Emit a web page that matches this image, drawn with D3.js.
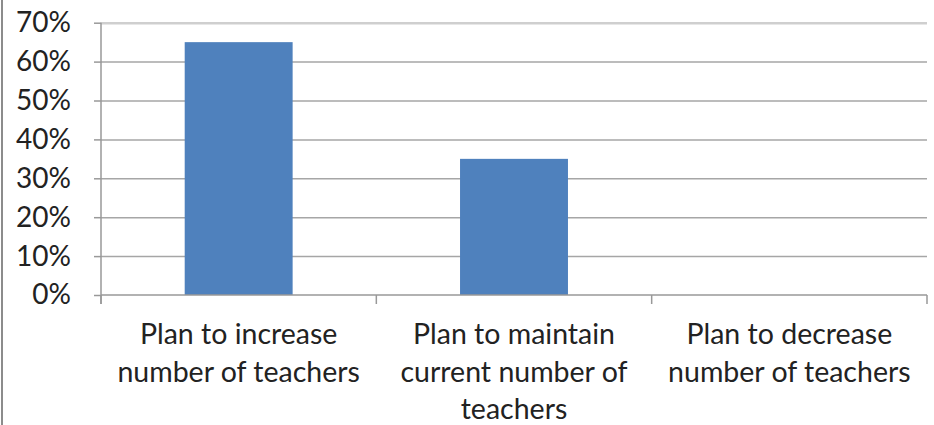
<!DOCTYPE html>
<html>
<head>
<meta charset="utf-8">
<script src="https://cdn.jsdelivr.net/npm/d3@7"></script>
<style>
  html, body { margin: 0; padding: 0; background: #fff; }
  svg { display: block; }
  text { font-family: Lato, "Open Sans", sans-serif; fill: #222; }
</style>
</head>
<body>
<svg id="chart" width="934" height="425"></svg>
<script>
const categories = [
  ["Plan to increase", "number of teachers"],
  ["Plan to maintain", "current number of", "teachers"],
  ["Plan to decrease", "number of teachers"]
];
const values = [0.65, 0.35, 0];
const yTicks = [0, 0.1, 0.2, 0.3, 0.4, 0.5, 0.6, 0.7];

const svg = d3.select("#chart");
const W = 934, H = 425;
const m = { left: 101, right: 7, top: 22.7, bottom: 130 };
const plotW = W - m.left - m.right;
const y0 = 295;

const x = d3.scaleBand()
  .domain(categories.map((d, i) => i))
  .range([m.left, m.left + plotW])
  .paddingInner(0.608)
  .paddingOuter(0.304);

const y = d3.scaleLinear().domain([0, 0.7]).range([y0, m.top]);

// outer left border
svg.append("line").attr("x1", 2).attr("x2", 2).attr("y1", 0).attr("y2", H)
  .attr("stroke", "#8c8c8c").attr("stroke-width", 2);

// gridlines
const grid = svg.append("g").attr("transform", `translate(${m.left},0)`)
  .call(d3.axisLeft(y).tickValues(yTicks.slice(1)).tickSize(-plotW).tickFormat(""));
grid.select(".domain").remove();
grid.selectAll("line").attr("stroke", "#a6a6a6").attr("stroke-width", 1.5);
grid.selectAll(".tick").filter(d => d === 0.7).select("line")
  .attr("stroke", "#cfcfcf").attr("stroke-width", 2.5);

// bars
svg.append("g").selectAll("rect").data(values).join("rect")
  .attr("x", (d, i) => x(i))
  .attr("width", x.bandwidth())
  .attr("y", d => y(d))
  .attr("height", d => y0 - y(d))
  .attr("fill", "#4f81bd");

// y axis
const yAxis = svg.append("g").attr("transform", `translate(${m.left},0)`)
  .call(d3.axisLeft(y).tickValues(yTicks).tickSize(7).tickPadding(23)
    .tickFormat(d3.format(".0%")));
yAxis.select(".domain").remove();
yAxis.selectAll("line").attr("stroke", "#999").attr("stroke-width", 1.5);
yAxis.selectAll("text").attr("font-size", 28).attr("fill", "#222")
  .attr("font-family", "Lato, sans-serif");
svg.append("line").attr("x1", m.left).attr("x2", m.left)
  .attr("y1", m.top).attr("y2", y0 + 9)
  .attr("stroke", "#999").attr("stroke-width", 1.5);

// x axis baseline + boundary ticks
const step = x.step();
const bounds = d3.range(categories.length + 1).map(i => m.left + i * step);
svg.append("line").attr("x1", m.left).attr("x2", m.left + plotW)
  .attr("y1", y0).attr("y2", y0).attr("stroke", "#999").attr("stroke-width", 1.5);
svg.append("g").selectAll("line").data(bounds).join("line")
  .attr("x1", d => d).attr("x2", d => d)
  .attr("y1", y0).attr("y2", y0 + 9)
  .attr("stroke", "#999").attr("stroke-width", 1.5);

// category labels
const baselines = [344, 382, 419];
const lbl = svg.append("g").selectAll("text").data(categories).join("text")
  .attr("text-anchor", "middle")
  .attr("font-size", 28.5);
lbl.each(function(lines, i) {
  const cx = x(i) + x.bandwidth() / 2;
  d3.select(this).selectAll("tspan").data(lines).join("tspan")
    .attr("x", cx).attr("y", (d, j) => baselines[j]).text(d => d);
});
</script>
</body>
</html>
